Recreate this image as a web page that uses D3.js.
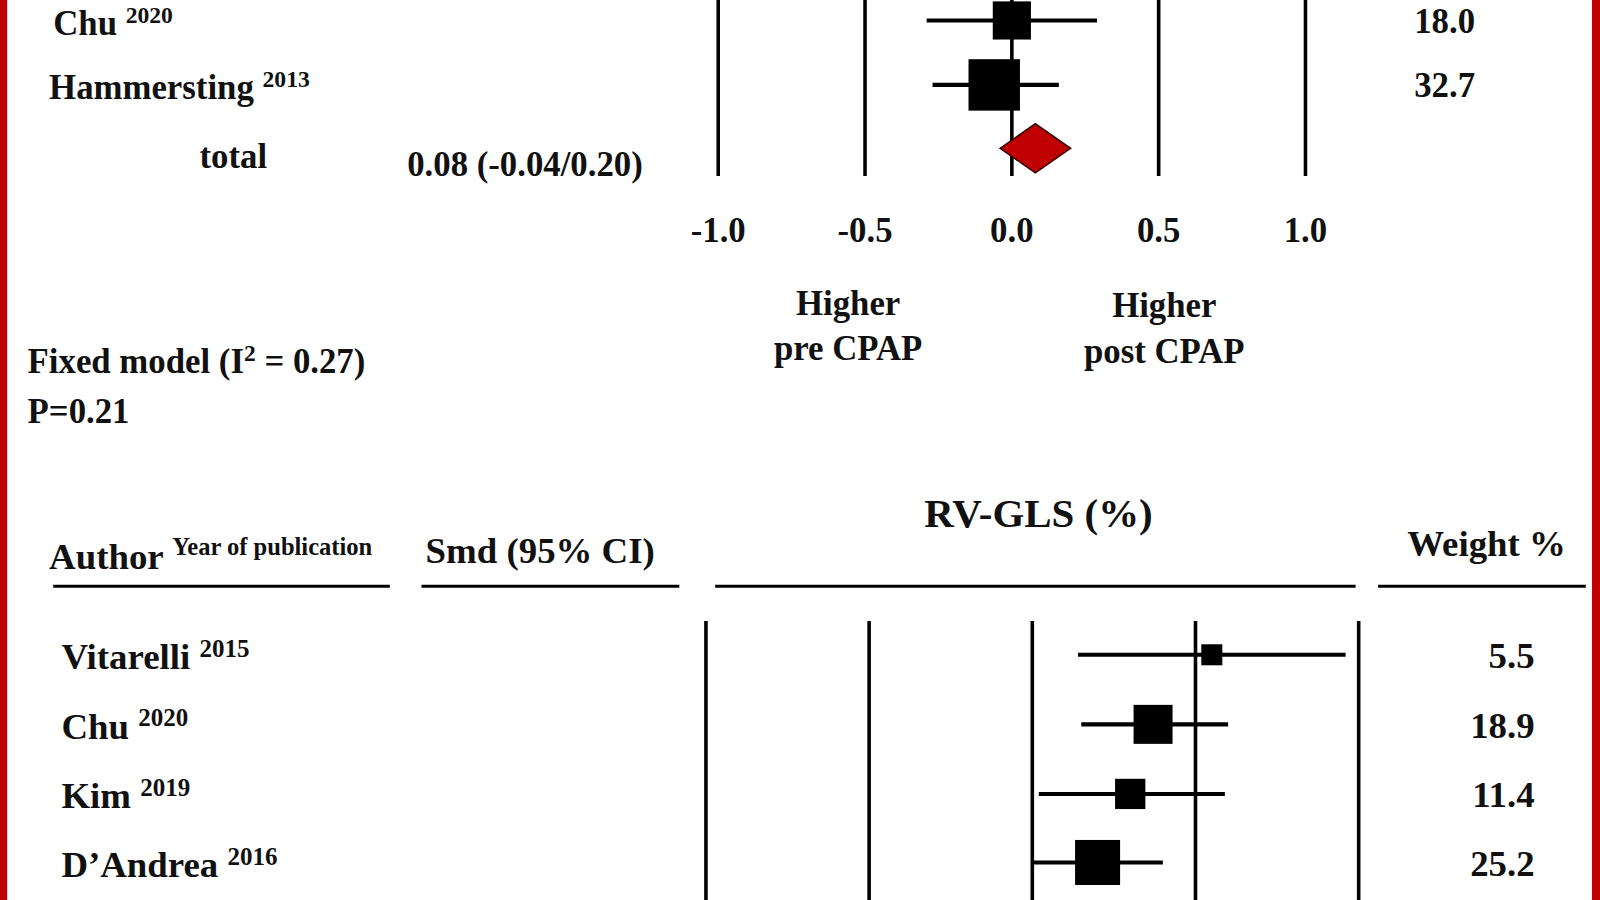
<!DOCTYPE html><html><head><meta charset="utf-8">
<script src="https://cdn.jsdelivr.net/npm/d3@7"></script>
<style>body{margin:0;background:#fff}text{font-family:"Liberation Serif","DejaVu Serif",serif;font-weight:bold;fill:#111}</style></head><body>
<svg id="c" width="1600" height="900"></svg>
<script>
const topAuthors=["Chu","Hammersting"];
const topYears=["2020","2013"];
const topSmd=[0.0,-0.06];
const topLo=[-0.29,-0.27];
const topHi=[0.29,0.16];
const topW=[18.0,32.7];
const topTotal={est:0.08,lo:-0.04,hi:0.20,label:"0.08 (-0.04/0.20)"};
const ticks=[-1,-0.5,0,0.5,1];
const tickLabels=["-1.0","-0.5","0.0","0.5","1.0"];
const botAuthors=["Vitarelli","Chu","Kim","D\u2019Andrea"];
const botYears=["2015","2020","2019","2016"];
const botSmd=[0.55,0.37,0.30,0.20];
const botLo=[0.14,0.15,0.02,0.0];
const botHi=[0.96,0.60,0.59,0.40];
const botW=[5.5,18.9,11.4,25.2];

const svg=d3.select("#c").append("g").attr("transform","scale(1.0231)");
svg.append("rect").attr("x",0).attr("y",0).attr("width",7).attr("height",900).attr("fill","#c00000");
svg.append("rect").attr("x",1556).attr("y",0).attr("width",8).attr("height",900).attr("fill","#c00000");

function label(x,y,name,yr,size){
  const t=svg.append("text").attr("x",x).attr("y",y).attr("font-size",size);
  t.append("tspan").text(name+" ");
  t.append("tspan").attr("dy",-12).attr("font-size",size*0.68).text(yr);
}
// top
const xt=d3.scaleLinear().domain([-1,1]).range([702,1276]);
const sz=d3.scaleSqrt().domain([0,35]).range([0,52]);
const yt=[20,83];
ticks.forEach(v=>svg.append("line").attr("x1",xt(v)).attr("x2",xt(v)).attr("y1",0).attr("y2",172).attr("stroke","#000").attr("stroke-width",3.5));
tickLabels.forEach((s,i)=>svg.append("text").attr("x",xt(ticks[i])).attr("y",237).attr("text-anchor","middle").attr("font-size",34).text(s));
topAuthors.forEach((a,i)=>{
  label(i==0?52:48,yt[i]+14,a,topYears[i],34);
  svg.append("line").attr("x1",xt(topLo[i])).attr("x2",xt(topHi[i])).attr("y1",yt[i]).attr("y2",yt[i]).attr("stroke","#000").attr("stroke-width",4);
  const s=sz(topW[i]);
  svg.append("rect").attr("x",xt(topSmd[i])-s/2).attr("y",yt[i]-s/2).attr("width",s).attr("height",s).attr("fill","#000");
  svg.append("text").attr("x",1412).attr("y",yt[i]+12).attr("text-anchor","middle").attr("font-size",34).text(topW[i].toFixed(1));
});
svg.append("text").attr("x",228).attr("y",164).attr("text-anchor","middle").attr("font-size",34).text("total");
svg.append("text").attr("x",398).attr("y",172).attr("font-size",34).text(topTotal.label);
const ty=145;
svg.append("path").attr("d",`M${xt(topTotal.lo)},${ty}L${xt(topTotal.est)},${ty-24}L${xt(topTotal.hi)},${ty}L${xt(topTotal.est)},${ty+24}Z`).attr("fill","#c00000").attr("stroke","#300").attr("stroke-width",1.5);
[["Higher",829,308],["pre CPAP",829,352],["Higher",1138,310],["post CPAP",1138,355]].forEach(d=>svg.append("text").attr("x",d[1]).attr("y",d[2]).attr("text-anchor","middle").attr("font-size",34).text(d[0]));
const fm=svg.append("text").attr("x",27).attr("y",365).attr("font-size",34);
fm.append("tspan").text("Fixed model (I");fm.append("tspan").attr("dy",-12).attr("font-size",23).text("2");fm.append("tspan").attr("dy",12).text(" = 0.27)");
svg.append("text").attr("x",27).attr("y",413).attr("font-size",34).text("P=0.21");

// bottom headers
svg.append("text").attr("x",1015).attr("y",515).attr("text-anchor","middle").attr("font-size",40).text("RV-GLS (%)");
const ah=svg.append("text").attr("x",48).attr("y",556).attr("font-size",36);
ah.append("tspan").text("Author ");ah.append("tspan").attr("dy",-14).attr("font-size",24).text("Year of publication");
svg.append("text").attr("x",416).attr("y",550).attr("font-size",36).text("Smd (95% CI)");
svg.append("text").attr("x",1453).attr("y",543).attr("text-anchor","middle").attr("font-size",36).text("Weight %");
[[52,381],[412,664],[699,1325],[1347,1550]].forEach(d=>svg.append("line").attr("x1",d[0]).attr("x2",d[1]).attr("y1",573).attr("y2",573).attr("stroke","#000").attr("stroke-width",3));

const xb=d3.scaleLinear().domain([-1,1]).range([690,1328]);
const szb=d3.scaleSqrt().domain([0,25.2]).range([0,44]);
const yb=[640,708,776,843];
ticks.forEach(v=>svg.append("line").attr("x1",xb(v)).attr("x2",xb(v)).attr("y1",607).attr("y2",900).attr("stroke","#000").attr("stroke-width",3.5));
botAuthors.forEach((a,i)=>{
  label(60,yb[i]+14,a,botYears[i],36);
  svg.append("line").attr("x1",xb(botLo[i])).attr("x2",xb(botHi[i])).attr("y1",yb[i]).attr("y2",yb[i]).attr("stroke","#000").attr("stroke-width",4);
  const s=szb(botW[i]);
  svg.append("rect").attr("x",xb(botSmd[i])-s/2).attr("y",yb[i]-s/2).attr("width",s).attr("height",s).attr("fill","#000");
  svg.append("text").attr("x",1500).attr("y",yb[i]+13).attr("text-anchor","end").attr("font-size",36).text(botW[i].toFixed(1));
});
</script></body></html>
